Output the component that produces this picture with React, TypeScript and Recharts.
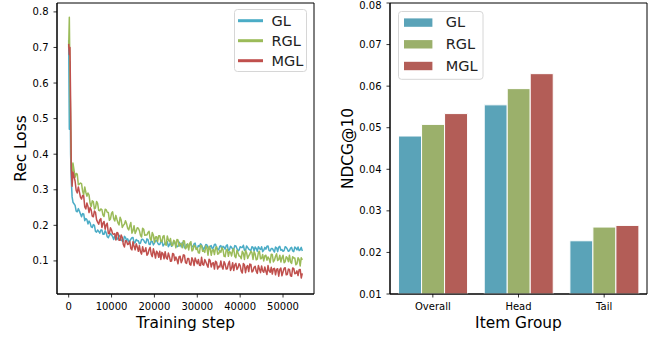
import React from 'react';
import { LineChart, Line, BarChart, Bar, XAxis, YAxis, Legend, ReferenceArea } from 'recharts';

const STEPS = [0, 150, 300, 450, 600, 800, 1000,
  1500, 1750, 2000, 2250, 2500, 2750, 3000, 3250, 3500, 3750,
  4000, 4250, 4500, 4750, 5000, 5250, 5500, 5750, 6000, 6250,
  6500, 6750, 7000, 7250, 7500, 7750, 8000, 8250, 8500, 8750,
  9000, 9250, 9500, 9750, 10000, 10250, 10500, 10750, 11000, 11250,
  11500, 11750, 12000, 12250, 12500, 12750, 13000, 13250, 13500, 13750,
  14000, 14250, 14500, 14750, 15000, 15250, 15500, 15750, 16000, 16250,
  16500, 16750, 17000, 17250, 17500, 17750, 18000, 18250, 18500, 18750,
  19000, 19250, 19500, 19750, 20000, 20250, 20500, 20750, 21000, 21250,
  21500, 21750, 22000, 22250, 22500, 22750, 23000, 23250, 23500, 23750,
  24000, 24250, 24500, 24750, 25000, 25250, 25500, 25750, 26000, 26250,
  26500, 26750, 27000, 27250, 27500, 27750, 28000, 28250, 28500, 28750,
  29000, 29250, 29500, 29750, 30000, 30250, 30500, 30750, 31000, 31250,
  31500, 31750, 32000, 32250, 32500, 32750, 33000, 33250, 33500, 33750,
  34000, 34250, 34500, 34750, 35000, 35250, 35500, 35750, 36000, 36250,
  36500, 36750, 37000, 37250, 37500, 37750, 38000, 38250, 38500, 38750,
  39000, 39250, 39500, 39750, 40000, 40250, 40500, 40750, 41000, 41250,
  41500, 41750, 42000, 42250, 42500, 42750, 43000, 43250, 43500, 43750,
  44000, 44250, 44500, 44750, 45000, 45250, 45500, 45750, 46000, 46250,
  46500, 46750, 47000, 47250, 47500, 47750, 48000, 48250, 48500, 48750,
  49000, 49250, 49500, 49750, 50000, 50250, 50500, 50750, 51000, 51250,
  51500, 51750, 52000, 52250, 52500, 52750, 53000, 53250, 53500, 53750,
  54000, 54250, 54500];

const GL_LOSS = [0.72, 0.47, 0.66, 0.40, 0.33, 0.28, 0.265,
  0.256, 0.240, 0.238, 0.247, 0.240, 0.232, 0.224, 0.233, 0.232, 0.213,
  0.219, 0.216, 0.204, 0.212, 0.207, 0.196, 0.194, 0.202, 0.200, 0.183,
  0.181, 0.187, 0.183, 0.178, 0.187, 0.187, 0.175, 0.175, 0.185, 0.179,
  0.168, 0.165, 0.172, 0.177, 0.173, 0.168, 0.160, 0.170, 0.172, 0.160,
  0.164, 0.172, 0.168, 0.159, 0.156, 0.155, 0.169, 0.166, 0.158, 0.162,
  0.154, 0.156, 0.161, 0.165, 0.166, 0.150, 0.152, 0.160, 0.157, 0.157,
  0.148, 0.150, 0.160, 0.161, 0.158, 0.152, 0.150, 0.162, 0.160, 0.147,
  0.146, 0.156, 0.155, 0.145, 0.150, 0.156, 0.158, 0.151, 0.146, 0.146,
  0.154, 0.157, 0.142, 0.146, 0.150, 0.150, 0.154, 0.140, 0.145, 0.153,
  0.141, 0.146, 0.155, 0.150, 0.145, 0.140, 0.141, 0.153, 0.148, 0.140,
  0.152, 0.148, 0.137, 0.137, 0.146, 0.145, 0.139, 0.148, 0.148, 0.140,
  0.140, 0.148, 0.150, 0.134, 0.135, 0.143, 0.141, 0.148, 0.145, 0.137,
  0.132, 0.139, 0.146, 0.145, 0.137, 0.133, 0.141, 0.143, 0.134, 0.137,
  0.146, 0.147, 0.137, 0.133, 0.131, 0.141, 0.143, 0.132, 0.141, 0.139,
  0.133, 0.143, 0.145, 0.129, 0.131, 0.141, 0.138, 0.133, 0.133, 0.143,
  0.142, 0.135, 0.128, 0.131, 0.140, 0.138, 0.138, 0.144, 0.130, 0.129,
  0.142, 0.138, 0.133, 0.131, 0.129, 0.140, 0.138, 0.128, 0.139, 0.135,
  0.127, 0.140, 0.135, 0.132, 0.140, 0.126, 0.130, 0.138, 0.133, 0.141,
  0.142, 0.129, 0.128, 0.135, 0.135, 0.130, 0.125, 0.139, 0.137, 0.126,
  0.139, 0.141, 0.130, 0.132, 0.127, 0.129, 0.140, 0.138, 0.133, 0.127,
  0.129, 0.136, 0.138, 0.128, 0.126, 0.139, 0.136, 0.131, 0.139, 0.129,
  0.131, 0.138, 0.128];

const RGL_LOSS = [0.70, 0.785, 0.62, 0.50, 0.38, 0.33, 0.375,
  0.335, 0.346, 0.344, 0.314, 0.316, 0.319, 0.317, 0.296, 0.286, 0.308,
  0.293, 0.282, 0.291, 0.285, 0.262, 0.253, 0.269, 0.267, 0.246, 0.249,
  0.267, 0.262, 0.242, 0.241, 0.246, 0.244, 0.229, 0.225, 0.245, 0.244,
  0.237, 0.236, 0.214, 0.218, 0.234, 0.238, 0.219, 0.212, 0.228, 0.217,
  0.207, 0.201, 0.223, 0.215, 0.194, 0.200, 0.203, 0.213, 0.205, 0.192,
  0.187, 0.198, 0.208, 0.178, 0.185, 0.199, 0.177, 0.184, 0.193, 0.192,
  0.185, 0.172, 0.167, 0.192, 0.189, 0.172, 0.173, 0.173, 0.180, 0.183,
  0.163, 0.158, 0.180, 0.173, 0.152, 0.167, 0.168, 0.155, 0.171, 0.171,
  0.155, 0.154, 0.169, 0.171, 0.147, 0.144, 0.170, 0.159, 0.154, 0.163,
  0.144, 0.143, 0.158, 0.155, 0.137, 0.160, 0.159, 0.141, 0.149, 0.148,
  0.137, 0.157, 0.156, 0.134, 0.138, 0.148, 0.131, 0.150, 0.154, 0.128,
  0.131, 0.144, 0.141, 0.132, 0.136, 0.123, 0.122, 0.144, 0.142, 0.127,
  0.129, 0.124, 0.142, 0.136, 0.116, 0.141, 0.135, 0.116, 0.130, 0.132,
  0.118, 0.136, 0.140, 0.119, 0.120, 0.129, 0.124, 0.137, 0.132, 0.113,
  0.112, 0.130, 0.133, 0.113, 0.126, 0.124, 0.114, 0.130, 0.134, 0.113,
  0.109, 0.130, 0.122, 0.114, 0.113, 0.106, 0.127, 0.122, 0.104, 0.130,
  0.123, 0.107, 0.114, 0.119, 0.127, 0.123, 0.104, 0.126, 0.119, 0.103,
  0.105, 0.124, 0.127, 0.106, 0.107, 0.118, 0.100, 0.114, 0.116, 0.102,
  0.111, 0.106, 0.095, 0.119, 0.118, 0.097, 0.102, 0.113, 0.120, 0.101,
  0.104, 0.116, 0.097, 0.109, 0.116, 0.095, 0.098, 0.112, 0.108, 0.098,
  0.116, 0.097, 0.093, 0.112, 0.108, 0.108, 0.089, 0.092, 0.109, 0.104,
  0.086, 0.109, 0.103];

const MGL_LOSS = [0.71, 0.68, 0.70, 0.55, 0.36, 0.31, 0.35,
  0.324, 0.298, 0.291, 0.308, 0.294, 0.279, 0.274, 0.284, 0.283, 0.252,
  0.246, 0.263, 0.253, 0.236, 0.250, 0.243, 0.226, 0.224, 0.240, 0.237,
  0.216, 0.209, 0.203, 0.215, 0.219, 0.194, 0.206, 0.211, 0.189, 0.201,
  0.206, 0.177, 0.177, 0.193, 0.187, 0.176, 0.175, 0.177, 0.159, 0.180,
  0.178, 0.158, 0.158, 0.173, 0.166, 0.146, 0.139, 0.157, 0.156, 0.146,
  0.148, 0.155, 0.135, 0.131, 0.154, 0.141, 0.131, 0.148, 0.139, 0.127,
  0.143, 0.126, 0.119, 0.140, 0.126, 0.127, 0.137, 0.116, 0.120, 0.132,
  0.138, 0.119, 0.112, 0.134, 0.123, 0.108, 0.127, 0.123, 0.110, 0.127,
  0.104, 0.124, 0.120, 0.106, 0.126, 0.109, 0.105, 0.122, 0.112, 0.099,
  0.100, 0.121, 0.119, 0.101, 0.111, 0.104, 0.092, 0.112, 0.113, 0.095,
  0.102, 0.117, 0.116, 0.095, 0.093, 0.107, 0.107, 0.090, 0.088, 0.109,
  0.102, 0.087, 0.108, 0.100, 0.092, 0.104, 0.088, 0.087, 0.110, 0.090,
  0.088, 0.104, 0.097, 0.089, 0.082, 0.105, 0.101, 0.083, 0.093, 0.095,
  0.077, 0.099, 0.096, 0.077, 0.085, 0.083, 0.100, 0.084, 0.077, 0.098,
  0.091, 0.077, 0.078, 0.092, 0.099, 0.073, 0.080, 0.095, 0.073, 0.089,
  0.093, 0.076, 0.081, 0.092, 0.087, 0.071, 0.066, 0.093, 0.089, 0.067,
  0.083, 0.087, 0.070, 0.091, 0.090, 0.069, 0.072, 0.082, 0.085, 0.071,
  0.065, 0.087, 0.077, 0.067, 0.086, 0.072, 0.068, 0.083, 0.071, 0.062,
  0.087, 0.072, 0.068, 0.082, 0.063, 0.078, 0.079, 0.061, 0.076, 0.078,
  0.057, 0.076, 0.080, 0.058, 0.069, 0.079, 0.081, 0.061, 0.062, 0.077,
  0.076, 0.058, 0.057, 0.080, 0.079, 0.064, 0.065, 0.072, 0.059, 0.075,
  0.076, 0.052, 0.065];

const STEP_DOMAIN = [-2725, 57225];
const LOSS_DOMAIN = [0.007, 0.825];
const STEP_TICKS = [0, 10000, 20000, 30000, 40000, 50000];
const LOSS_TICKS = [0.1, 0.2, 0.3, 0.4, 0.5, 0.6, 0.7, 0.8];

const GROUPS = ['Overall', 'Head', 'Tail'];
const GL_NDCG = [0.048, 0.0555, 0.0228];
const RGL_NDCG = [0.0508, 0.0594, 0.0261];
const MGL_NDCG = [0.0534, 0.063, 0.0265];
const NDCG_DOMAIN = [0.01, 0.08];
const NDCG_TICKS = [0.01, 0.02, 0.03, 0.04, 0.05, 0.06, 0.07, 0.08];

const SERIES = ['GL', 'RGL', 'MGL'];
const LINE_COLORS = ['#4bacc6', '#9bbb59', '#c0504d'];
const BAR_COLORS = ['#5aa3b8', '#9bb06b', '#b35d57'];

const lossData = STEPS.map((step, i) => ({ step, GL: GL_LOSS[i], RGL: RGL_LOSS[i], MGL: MGL_LOSS[i] }));
const ndcgData = GROUPS.map((g, i) => ({ group: g, GL: GL_NDCG[i], RGL: RGL_NDCG[i], MGL: MGL_NDCG[i] }));

const FONT = '"DejaVu Sans", sans-serif';
const tickStyle = { fontSize: 10, fill: '#000', fontFamily: FONT };
const axisLine = { stroke: '#000', strokeWidth: 1 };
const tickLine = { stroke: '#000', strokeWidth: 0.8 };

const LineLegend = () => (
  <svg width={74} height={64} style={{ display: 'block' }}>
    <rect x={0.5} y={0.5} width={72} height={62} rx={3} fill="#fff" fillOpacity={0.8} stroke="#d6d6d6" />
    {SERIES.map((s, i) => (
      <g key={s}>
        <line x1={4} x2={29} y1={11.7 + i * 20} y2={11.7 + i * 20} stroke={LINE_COLORS[i]} strokeWidth={3} />
        <text x={37.5} y={16.9 + i * 20} fontSize={14.5} fontFamily={FONT} fill="#222">{s}</text>
      </g>
    ))}
  </svg>
);

const BarLegend = () => (
  <svg width={86} height={69} style={{ display: 'block' }}>
    <rect x={0.5} y={0.5} width={84.5} height={67.8} rx={3} fill="#fff" fillOpacity={0.8} stroke="#d6d6d6" />
    {SERIES.map((s, i) => (
      <g key={s}>
        <rect x={6} y={7.4 + i * 21.7} width={28.4} height={8.4} fill={BAR_COLORS[i]} />
        <text x={47.7} y={16.3 + i * 21.7} fontSize={14.5} fontFamily={FONT} fill="#222">{s}</text>
      </g>
    ))}
  </svg>
);

export default function App() {
  return (
    <div style={{ position: 'absolute', left: 0, top: 0, width: 660, height: 339, background: '#fff', fontFamily: FONT }}>
      <div style={{ position: 'absolute', left: 0, top: 0 }}>
        <LineChart width={330} height={339} data={lossData} margin={{ top: 3, right: 16, bottom: 0, left: 0 }}>
          <XAxis dataKey="step" type="number" domain={STEP_DOMAIN} allowDataOverflow ticks={STEP_TICKS}
            height={45} tick={tickStyle} tickSize={3.5} tickMargin={5} axisLine={axisLine} tickLine={tickLine}
            label={{ value: 'Training step', content: () => (
              <text x={185.5} y={327.5} textAnchor="middle" fontSize={15.4} fontFamily={FONT} fill="#000">Training step</text>
            ) }} />
          <YAxis type="number" domain={LOSS_DOMAIN} allowDataOverflow ticks={LOSS_TICKS} width={57}
            tick={tickStyle} tickSize={3.5} tickMargin={5} axisLine={axisLine} tickLine={tickLine}
            tickFormatter={(v: number) => v.toFixed(1)}
            label={{ value: 'Rec Loss', content: () => (
              <text x={26} y={148.5} transform="rotate(-90, 26, 148.5)" textAnchor="middle" fontSize={15.4} fontFamily={FONT} fill="#000">Rec Loss</text>
            ) }} />
          {SERIES.map((s, i) => (
            <Line key={s} type="linear" dataKey={s} stroke={LINE_COLORS[i]} strokeWidth={1.5} dot={false}
              isAnimationActive={false} strokeLinejoin="round" />
          ))}
          <ReferenceArea x1={STEP_DOMAIN[0]} x2={STEP_DOMAIN[1]} y1={LOSS_DOMAIN[0]} y2={LOSS_DOMAIN[1]}
            fill="none" fillOpacity={0} stroke="#000" strokeWidth={1} ifOverflow="visible" />
          <Legend layout="vertical" align="center" verticalAlign="middle" content={() => <LineLegend />}
            wrapperStyle={{ left: 234, top: 9, width: 74, height: 64, margin: 0, padding: 0 }} />
        </LineChart>
      </div>
      <div style={{ position: 'absolute', left: 330, top: 0 }}>
        <BarChart width={330} height={339} data={ndcgData} margin={{ top: 3, right: 13, bottom: 0, left: 0 }}
          barCategoryGap="10%" barGap={0}>
          <XAxis dataKey="group" height={45} tick={tickStyle} tickSize={3.5} tickMargin={5}
            axisLine={axisLine} tickLine={tickLine}
            label={{ value: 'Item Group', content: () => (
              <text x={188.5} y={327.5} textAnchor="middle" fontSize={15.4} fontFamily={FONT} fill="#000">Item Group</text>
            ) }} />
          <YAxis type="number" domain={NDCG_DOMAIN} allowDataOverflow ticks={NDCG_TICKS} width={60}
            tick={tickStyle} tickSize={3.5} tickMargin={5} axisLine={axisLine} tickLine={tickLine}
            tickFormatter={(v: number) => v.toFixed(2)}
            label={{ value: 'NDCG@10', content: () => (
              <text x={22.5} y={148.5} transform="rotate(-90, 22.5, 148.5)" textAnchor="middle" fontSize={15.4} fontFamily={FONT} fill="#000">NDCG@10</text>
            ) }} />
          {SERIES.map((s, i) => (
            <Bar key={s} dataKey={s} fill={BAR_COLORS[i]} stroke="#fff" strokeWidth={1} isAnimationActive={false} />
          ))}
          <ReferenceArea x1={GROUPS[0]} x2={GROUPS[GROUPS.length - 1]} y1={NDCG_DOMAIN[0]} y2={NDCG_DOMAIN[1]}
            fill="none" fillOpacity={0} stroke="#000" strokeWidth={1} ifOverflow="visible" />
          <Legend layout="vertical" align="center" verticalAlign="middle" content={() => <BarLegend />}
            wrapperStyle={{ left: 68, top: 10.5, width: 86, height: 69, margin: 0, padding: 0 }} />
        </BarChart>
      </div>
    </div>
  );
}
